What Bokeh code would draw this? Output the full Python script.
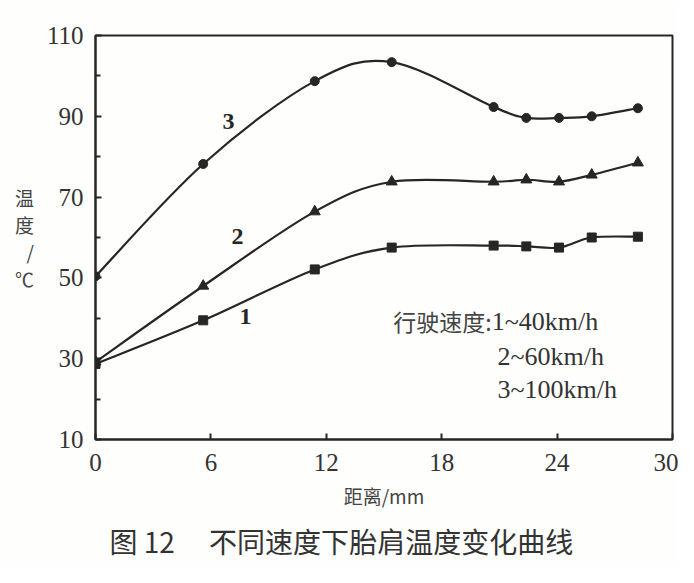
import numpy as np
from bokeh.plotting import figure
from bokeh.models import Range1d, FixedTicker, Label, Title
from bokeh.embed import file_html
from bokeh.resources import INLINE

# ---- data ----
distance = [0, 5.6, 11.4, 15.4, 20.7, 22.4, 24.1, 25.8, 28.2]
temp_100 = [50.4, 78.2, 98.7, 103.4, 92.3, 89.6, 89.6, 90.0, 92.0]   # curve 3
temp_60 = [29.2, 48.0, 66.4, 73.8, 73.8, 74.3, 73.8, 75.5, 78.5]     # curve 2
temp_40 = [28.7, 39.5, 52.1, 57.5, 58.0, 57.8, 57.5, 60.0, 60.2]     # curve 1
x_ticks = [0, 6, 12, 18, 24, 30]
y_ticks = [10, 30, 50, 70, 90, 110]
y_minor = [20, 40, 60, 80, 100]
curve_names = ["3", "2", "1"]
legend_lines = ["1~40km/h", "2~60km/h", "3~100km/h"]
legend_prefix = "行驶速度:"
x_label = "距离/mm"
y_label = "温\n度\n/\n℃"
caption = "图 12 \u3000不同速度下胎肩温度变化曲线"

INK = "#262626"
SERIF = "Liberation Serif"
CJK = "Noto Sans CJK SC"

p = figure(width=678, height=567, output_backend="svg", toolbar_location=None,
           x_range=Range1d(0, 30), y_range=Range1d(10, 110),
           min_border_left=95, min_border_right=6, min_border_top=35,
           min_border_bottom=126)
p.background_fill_color = "#fefefd"
p.border_fill_color = "#fefefd"
p.grid.visible = False
p.outline_line_color = INK
p.outline_line_width = 2

for ax in (p.xaxis[0], p.yaxis[0]):
    ax.axis_line_color = INK
    ax.axis_line_width = 2
    ax.major_tick_in = 6
    ax.major_tick_out = 0
    ax.major_tick_line_color = INK
    ax.major_tick_line_width = 2
    ax.minor_tick_in = 5
    ax.minor_tick_out = 0
    ax.minor_tick_line_color = INK
    ax.minor_tick_line_width = 2
    ax.major_label_text_font = SERIF
    ax.major_label_text_font_size = "25px"
    ax.major_label_text_color = "#333333"

p.xaxis.ticker = FixedTicker(ticks=x_ticks, minor_ticks=[])
p.yaxis.ticker = FixedTicker(ticks=y_ticks, minor_ticks=y_minor)
p.xaxis.major_label_standoff = 14
p.yaxis.major_label_standoff = 12

p.xaxis.axis_label = x_label
p.xaxis.axis_label_text_font = CJK
p.xaxis.axis_label_text_font_style = "normal"
p.xaxis.axis_label_text_font_size = "19px"
p.xaxis.axis_label_text_color = "#444444"
p.xaxis.axis_label_standoff = 8

p.yaxis.axis_label = y_label
p.yaxis.axis_label_orientation = "horizontal"
p.yaxis.axis_label_text_font = CJK
p.yaxis.axis_label_text_font_style = "normal"
p.yaxis.axis_label_text_font_size = "19px"
p.yaxis.axis_label_text_color = "#444444"
p.yaxis.axis_label_standoff = 10
p.yaxis.axis_label_text_line_height = 1.0


def catmull_bezier(xs, ys):
    P = np.column_stack([xs, ys]).astype(float)
    ext = np.vstack([P[0], P, P[-1]])
    out = {k: [] for k in ("x0", "y0", "x1", "y1", "cx0", "cy0", "cx1", "cy1")}
    for i in range(len(P) - 1):
        p0, p1, p2, p3 = ext[i], ext[i + 1], ext[i + 2], ext[i + 3]
        c0 = p1 + (p2 - p0) / 6.0
        c1 = p2 - (p3 - p1) / 6.0
        out["x0"].append(p1[0]); out["y0"].append(p1[1])
        out["x1"].append(p2[0]); out["y1"].append(p2[1])
        out["cx0"].append(c0[0]); out["cy0"].append(c0[1])
        out["cx1"].append(c1[0]); out["cy1"].append(c1[1])
    return out


series = [(temp_100, "circle", 9), (temp_60, "triangle", 11), (temp_40, "square", 9)]
for ys, marker, size in series:
    b = catmull_bezier(distance, ys)
    p.bezier(x0=b["x0"], y0=b["y0"], x1=b["x1"], y1=b["y1"],
             cx0=b["cx0"], cy0=b["cy0"], cx1=b["cx1"], cy1=b["cy1"],
             line_color=INK, line_width=2.2)
    p.scatter(distance, ys, marker=marker, size=size, color=INK)

# curve numbers
num_pos = [(6.92, 88.6), (7.38, 60.2), (7.8, 40.5)]
for name, (nx, ny) in zip(curve_names, num_pos):
    p.add_layout(Label(x=nx, y=ny, text=name, text_font=SERIF, text_font_style="bold",
                       text_font_size="24px", text_color=INK,
                       text_align="center", text_baseline="middle"))

# legend text
leg_x = 20.6
leg_y = [39.3, 30.6, 22.5]
p.add_layout(Label(x=leg_x, y=leg_y[0], text=legend_prefix, text_font=CJK,
                   text_font_size="23px", text_color="#444444",
                   text_align="right", text_baseline="middle"))
for i, (t, ly) in enumerate(zip(legend_lines, leg_y)):
    p.add_layout(Label(x=leg_x + (0.0 if i == 0 else 0.3), y=ly, text=t, text_font=SERIF,
                       text_font_size="26px", text_color="#333333",
                       text_align="left", text_baseline="middle"))

# caption below the chart
p.add_layout(Title(text=caption, align="left", offset=14, standoff=14,
                   text_font=CJK, text_font_size="28px", text_font_style="normal",
                   text_color="#333333"), "below")

open("out.html", "w").write(file_html(p, INLINE))
